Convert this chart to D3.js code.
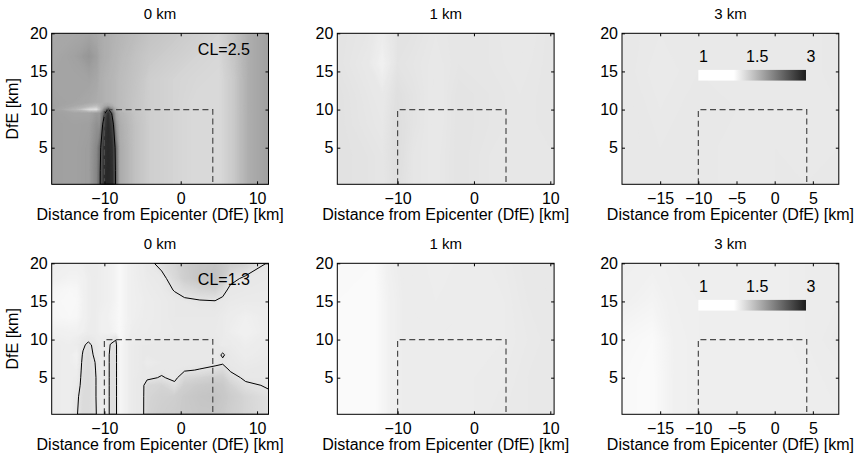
<!DOCTYPE html>
<html><head><meta charset="utf-8">
<script src="https://cdn.jsdelivr.net/npm/d3@7"></script>
<style>
body{margin:0;background:#fff}
svg{display:block}
text{font-family:Arial,"Liberation Sans",Helvetica,sans-serif;fill:#000}
</style>
</head><body>
<svg id="c" width="856" height="460"></svg>
<script>
// ---------------- DATA ----------------
const panelTitles = ["0 km", "1 km", "3 km", "0 km", "1 km", "3 km"];
const xDomains = [[-16.9, 11.5], [-17.9, 10.5], [-20, 8.4], [-16.9, 11.5], [-17.9, 10.5], [-20, 8.4]];
const yDomain = [0.2, 20];
const xTicksA = [-10, 0, 10];
const xTicksB = [-15, -10, -5, 0, 5];
const yTicks = [5, 10, 15, 20];
const faultX = [-10, 4.2];
const faultDepth = 10;
const contourLevels = [2.5, null, null, 1.3, null, null];
const colorbarValues = [1, 1.5, 3];
const colorbarSpan = [-10, 4.1];
const colorbarRows = [13.8, 15.2];
const xLabel = "Distance from Epicenter (DfE) [km]";
const yLabel = "DfE [km]";

// panel 1 (0 km, top) grid: columns (km), rows (km, top to bottom), values
const p1x = [-16.9, -14, -12, -11, -10.6, -10, -9.5, -9, -8.5, -8, -6, -4, -1, 2, 5, 7, 9, 11.5];
const p1y = [20, 17, 14, 11, 10.5, 10, 9.5, 8, 5, 2, 0.2];
const p1v = [
 [1.90,1.92,1.95,1.90,1.88,1.85,1.82,1.80,1.78,1.75,1.68,1.60,1.55,1.50,1.45,1.60,1.85,2.00],
 [1.92,1.98,2.08,2.00,1.90,1.85,1.82,1.78,1.75,1.72,1.62,1.55,1.50,1.45,1.42,1.58,1.85,2.00],
 [1.95,1.95,1.97,1.92,1.85,1.80,1.78,1.75,1.72,1.68,1.60,1.50,1.45,1.42,1.40,1.55,1.85,2.00],
 [1.98,1.95,1.90,1.86,1.85,1.80,1.78,1.75,1.72,1.68,1.58,1.50,1.45,1.40,1.40,1.55,1.85,2.00],
 [2.00,1.90,1.75,1.65,1.75,1.90,1.95,1.85,1.72,1.68,1.58,1.50,1.45,1.40,1.40,1.55,1.85,2.00],
 [2.00,1.75,1.35,1.30,1.60,2.20,2.55,2.20,1.85,1.70,1.58,1.50,1.45,1.40,1.40,1.55,1.85,2.00],
 [2.00,1.95,1.95,2.05,2.05,2.45,2.90,2.45,1.95,1.80,1.60,1.50,1.45,1.40,1.40,1.55,1.85,2.00],
 [2.00,1.98,2.00,2.12,2.10,2.75,2.95,2.75,2.10,1.85,1.62,1.50,1.45,1.40,1.40,1.55,1.85,2.00],
 [2.00,1.98,2.02,2.18,2.40,2.90,2.95,2.90,2.40,1.88,1.62,1.50,1.45,1.40,1.40,1.55,1.85,2.00],
 [2.00,1.98,2.02,2.20,2.45,2.92,2.97,2.92,2.45,1.88,1.62,1.50,1.45,1.40,1.40,1.55,1.85,2.00],
 [2.00,1.98,2.02,2.20,2.46,2.92,2.97,2.92,2.46,1.88,1.62,1.50,1.45,1.40,1.40,1.55,1.85,2.00]
];

// panel 2 (1 km, top)
const p2x = [-17.9, -14, -12, -10, -8, -5, -2, 2, 6, 10.5];
const p2y = [20, 16, 12, 8, 4, 0.2];
const p2v = [
 [1.30,1.27,1.20,1.30,1.30,1.26,1.28,1.27,1.24,1.28],
 [1.30,1.25,1.14,1.30,1.28,1.25,1.28,1.27,1.25,1.28],
 [1.32,1.27,1.24,1.34,1.30,1.24,1.30,1.28,1.26,1.28],
 [1.32,1.28,1.26,1.36,1.30,1.24,1.30,1.28,1.26,1.28],
 [1.32,1.30,1.28,1.36,1.28,1.25,1.30,1.27,1.26,1.27],
 [1.32,1.30,1.28,1.34,1.28,1.25,1.30,1.27,1.26,1.27]
];

// panel 3 (3 km, top)
const p3x = [-20, -15, -10, -5, 0, 4, 8.4];
const p3y = [20, 15, 10, 5, 0.2];
const p3v = [
 [1.25,1.23,1.24,1.23,1.24,1.23,1.25],
 [1.25,1.22,1.24,1.23,1.23,1.23,1.25],
 [1.26,1.23,1.25,1.24,1.23,1.23,1.24],
 [1.26,1.24,1.25,1.23,1.24,1.23,1.24],
 [1.26,1.24,1.25,1.23,1.24,1.24,1.24]
];

// panel 4 (0 km, bottom)
const p4x = [-16.9, -14.5, -13.6, -12.8, -12.1, -11.3, -10.5, -9.6, -9.2, -8.5, -8.0, -6.5, -5, -4.4, -2.5, -0.8, 0.5, 2.5, 4.5, 5.5, 6.5, 8.5, 11.5];
const p4y = [20, 18, 16.5, 15, 13, 11, 10.3, 9.3, 8, 7, 6, 5, 4, 2.5, 0.2];
const p4v = [
 [1.18,1.16,1.16,1.18,1.20,1.21,1.18,1.16,1.14,1.10,1.06,1.16,1.21,1.24,1.36,1.44,1.52,1.58,1.60,1.56,1.52,1.48,1.28],
 [1.16,1.12,1.12,1.14,1.18,1.20,1.18,1.16,1.14,1.10,1.06,1.16,1.20,1.22,1.24,1.40,1.50,1.58,1.62,1.52,1.36,1.26,1.24],
 [1.10,1.07,1.08,1.14,1.18,1.20,1.18,1.16,1.14,1.10,1.06,1.16,1.19,1.21,1.23,1.31,1.38,1.44,1.46,1.37,1.25,1.24,1.23],
 [1.08,1.06,1.07,1.13,1.18,1.20,1.18,1.16,1.14,1.10,1.06,1.16,1.18,1.20,1.22,1.24,1.26,1.28,1.29,1.25,1.23,1.22,1.22],
 [1.09,1.07,1.08,1.14,1.18,1.20,1.16,1.14,1.12,1.09,1.06,1.16,1.19,1.20,1.22,1.24,1.24,1.24,1.24,1.22,1.20,1.16,1.20],
 [1.16,1.14,1.14,1.16,1.20,1.20,1.16,1.14,1.14,1.10,1.06,1.18,1.20,1.21,1.22,1.23,1.23,1.23,1.23,1.22,1.18,1.14,1.20],
 [1.18,1.16,1.18,1.22,1.24,1.22,1.19,1.21,1.22,1.27,1.07,1.20,1.22,1.22,1.23,1.24,1.24,1.24,1.24,1.22,1.20,1.16,1.21],
 [1.20,1.18,1.20,1.27,1.34,1.26,1.21,1.23,1.31,1.35,1.08,1.21,1.24,1.24,1.25,1.25,1.25,1.25,1.25,1.21,1.22,1.18,1.22],
 [1.20,1.18,1.14,1.32,1.37,1.28,1.21,1.23,1.35,1.35,1.08,1.21,1.24,1.24,1.25,1.25,1.25,1.25,1.24,1.32,1.24,1.20,1.23],
 [1.20,1.18,1.16,1.34,1.38,1.31,1.21,1.23,1.35,1.35,1.08,1.21,1.24,1.21,1.24,1.24,1.24,1.24,1.25,1.27,1.25,1.22,1.24],
 [1.20,1.18,1.18,1.35,1.38,1.32,1.21,1.23,1.35,1.35,1.08,1.21,1.24,1.24,1.25,1.26,1.28,1.31,1.36,1.40,1.28,1.24,1.25],
 [1.20,1.18,1.20,1.36,1.38,1.33,1.21,1.23,1.35,1.35,1.08,1.21,1.25,1.25,1.32,1.25,1.42,1.46,1.50,1.50,1.38,1.26,1.26],
 [1.20,1.18,1.22,1.37,1.39,1.33,1.21,1.23,1.35,1.35,1.08,1.21,1.25,1.42,1.45,1.35,1.50,1.54,1.56,1.54,1.47,1.34,1.28],
 [1.20,1.18,1.27,1.38,1.39,1.33,1.21,1.23,1.35,1.35,1.08,1.21,1.25,1.44,1.48,1.50,1.54,1.58,1.60,1.56,1.52,1.44,1.34],
 [1.20,1.18,1.29,1.39,1.39,1.34,1.21,1.23,1.35,1.35,1.08,1.21,1.25,1.45,1.50,1.52,1.54,1.56,1.56,1.54,1.50,1.44,1.35]
];

// panel 5 (1 km, bottom)
const p5x = [-17.9, -13, -11, -9, -5, 0, 4, 7, 10.5];
const p5y = [20, 15, 10, 5, 0.2];
const p5v = [
 [1.06,1.05,1.16,1.21,1.18,1.20,1.22,1.25,1.25],
 [1.05,1.04,1.14,1.20,1.19,1.20,1.21,1.24,1.25],
 [1.05,1.04,1.14,1.20,1.20,1.20,1.21,1.23,1.25],
 [1.05,1.04,1.14,1.20,1.20,1.21,1.22,1.24,1.25],
 [1.05,1.04,1.14,1.20,1.20,1.21,1.23,1.24,1.26]
];

// panel 6 (3 km, bottom)
const p6x = [-20, -16, -13, -10, -5, 0, 4, 8.4];
const p6y = [20, 15, 10, 5, 0.2];
const p6v = [
 [1.17,1.15,1.17,1.17,1.17,1.17,1.19,1.21],
 [1.15,1.11,1.16,1.17,1.17,1.17,1.19,1.21],
 [1.08,1.05,1.15,1.17,1.17,1.17,1.19,1.23],
 [1.06,1.04,1.15,1.17,1.17,1.17,1.18,1.20],
 [1.06,1.04,1.15,1.17,1.17,1.17,1.18,1.19]
];

// ---------------- LAYOUT ----------------
const grids = [
  {x: p1x, y: p1y, v: p1v}, {x: p2x, y: p2y, v: p2v}, {x: p3x, y: p3y, v: p3v},
  {x: p4x, y: p4y, v: p4v}, {x: p5x, y: p5y, v: p5v}, {x: p6x, y: p6y, v: p6v}
];
const colLeft = [51.7, 337.3, 622];
const rowTop = [33.3, 263.3];
const plotW = 216.8, plotH = 151;
const FS = 16;

const gray = d3.scaleLinear()
  .domain([1, 1.1, 1.2, 1.3, 1.45, 1.6, 2, 2.5, 3])
  .range([255, 244, 236, 228, 212, 195, 160, 95, 36]).clamp(true);
const color = v => { const g = Math.round(gray(v)); return `rgb(${g},${g},${g})`; };
const levels = d3.range(0.99, 3.0, 0.01);

const svg = d3.select("#c");
const defs = svg.append("defs");
const grad = defs.append("linearGradient").attr("id", "cbgrad");
grad.append("stop").attr("offset", 0).attr("stop-color", "#ffffff");
grad.append("stop").attr("offset", 0.33).attr("stop-color", "#ffffff");
grad.append("stop").attr("offset", 1).attr("stop-color", "#1c1c1c");

grids.forEach((grid, p) => {
  const row = p < 3 ? 0 : 1, col = p % 3;
  const left = colLeft[col], top = rowTop[row];
  const g = svg.append("g").attr("transform", `translate(${left},${top})`);
  const x = d3.scaleLinear().domain(xDomains[p]).range([0, plotW]);
  const y = d3.scaleLinear().domain(yDomain).range([plotH, 0]);

  defs.append("clipPath").attr("id", "clip" + p)
    .append("rect").attr("width", plotW).attr("height", plotH);

  // grid index -> km (value i sits at i+0.5 in d3.contours space)
  const gx = d3.scaleLinear().domain(grid.x.map((d, i) => i + 0.5)).range(grid.x).clamp(true);
  const gy = d3.scaleLinear().domain(grid.y.map((d, i) => i + 0.5)).range(grid.y).clamp(true);
  const proj = d3.geoTransform({point(px, py) { this.stream.point(x(gx(px)), y(gy(py))); }});
  const path = d3.geoPath(proj);
  const values = grid.v.flat();
  const gen = d3.contours().size([grid.x.length, grid.y.length]);
  const bands = gen.thresholds(levels)(values).filter(c => c.coordinates.length);

  const field = g.append("g").attr("clip-path", `url(#clip${p})`);
  field.selectAll("path.band").data(bands).join("path")
    .attr("class", "band").attr("d", path)
    .attr("fill", d => color(d.value + 0.005));

  if (contourLevels[p] != null) {
    const cl = d3.contours().size([grid.x.length, grid.y.length]).thresholds([contourLevels[p]])(values);
    field.selectAll("path.cl").data(cl).join("path")
      .attr("class", "cl").attr("d", path)
      .attr("fill", "none").attr("stroke", "#000").attr("stroke-width", 1);
  }

  // dashed fault outline
  const fpts = [[faultX[0], yDomain[0]], [faultX[0], faultDepth], [faultX[1], faultDepth], [faultX[1], yDomain[0]]];
  field.append("path")
    .attr("d", d3.line().x(d => x(d[0])).y(d => y(d[1]))(fpts))
    .attr("fill", "none").attr("stroke", "#4a4a4a").attr("stroke-width", 1.2)
    .attr("stroke-dasharray", "6,3.6");

  // colour bar legend in 3 km panels
  if (col === 2) {
    const bx0 = x(colorbarSpan[0]), bx1 = x(colorbarSpan[1]);
    g.append("rect").attr("x", bx0).attr("y", y(colorbarRows[1]))
      .attr("width", bx1 - bx0).attr("height", y(colorbarRows[0]) - y(colorbarRows[1]))
      .attr("fill", "url(#cbgrad)");
    const cbPos = d3.scaleLinear().domain(colorbarValues).range([0, 0.5, 1]);
    g.selectAll("text.cb").data(colorbarValues).join("text")
      .attr("class", "cb")
      .attr("x", d => bx0 + cbPos(d) * (bx1 - bx0) + 5)
      .attr("y", y(colorbarRows[1]) - 8)
      .attr("text-anchor", "middle").attr("font-size", FS)
      .text(d => String(d));
  }

  // CL annotation
  if (contourLevels[p] != null) {
    g.append("text").attr("x", x(2.25)).attr("y", y(17.15))
      .attr("font-size", FS).text("CL=" + contourLevels[p]);
  }

  // axes: inward ticks on all four sides
  const xt = col === 2 ? xTicksB : xTicksA;
  const fmt = d3.format("d");
  const bottom = g.append("g").attr("transform", `translate(0,${plotH})`)
    .call(d3.axisBottom(x).tickValues(xt).tickSizeInner(-3).tickSizeOuter(0).tickPadding(8.5).tickFormat(fmt));
  g.append("g").call(d3.axisTop(x).tickValues(xt).tickSizeInner(-3).tickSizeOuter(0).tickFormat(""));
  const leftAx = g.append("g")
    .call(d3.axisLeft(y).tickValues(yTicks).tickSizeInner(-3).tickSizeOuter(0).tickPadding(4).tickFormat(fmt));
  g.append("g").attr("transform", `translate(${plotW},0)`)
    .call(d3.axisRight(y).tickValues(yTicks).tickSizeInner(-3).tickSizeOuter(0).tickFormat(""));
  g.selectAll(".domain").remove();
  g.selectAll(".tick line").attr("stroke", "#000");
  [bottom, leftAx].forEach(a => a.attr("font-size", FS).attr("font-family", null));

  // frame
  g.append("rect").attr("width", plotW).attr("height", plotH)
    .attr("fill", "none").attr("stroke", "#000").attr("stroke-width", 1);

  // title
  g.append("text").attr("x", plotW / 2).attr("y", -14.3)
    .attr("text-anchor", "middle").attr("font-size", 15).text(panelTitles[p]);
  // x label
  g.append("text").attr("x", plotW / 2).attr("y", plotH + 36)
    .attr("text-anchor", "middle").attr("font-size", FS).text(xLabel);
  // y label (first column only)
  if (col === 0) {
    g.append("text")
      .attr("transform", `translate(${-34},${plotH / 2}) rotate(-90)`)
      .attr("text-anchor", "middle").attr("font-size", FS).text(yLabel);
  }
});
</script>
</body></html>
